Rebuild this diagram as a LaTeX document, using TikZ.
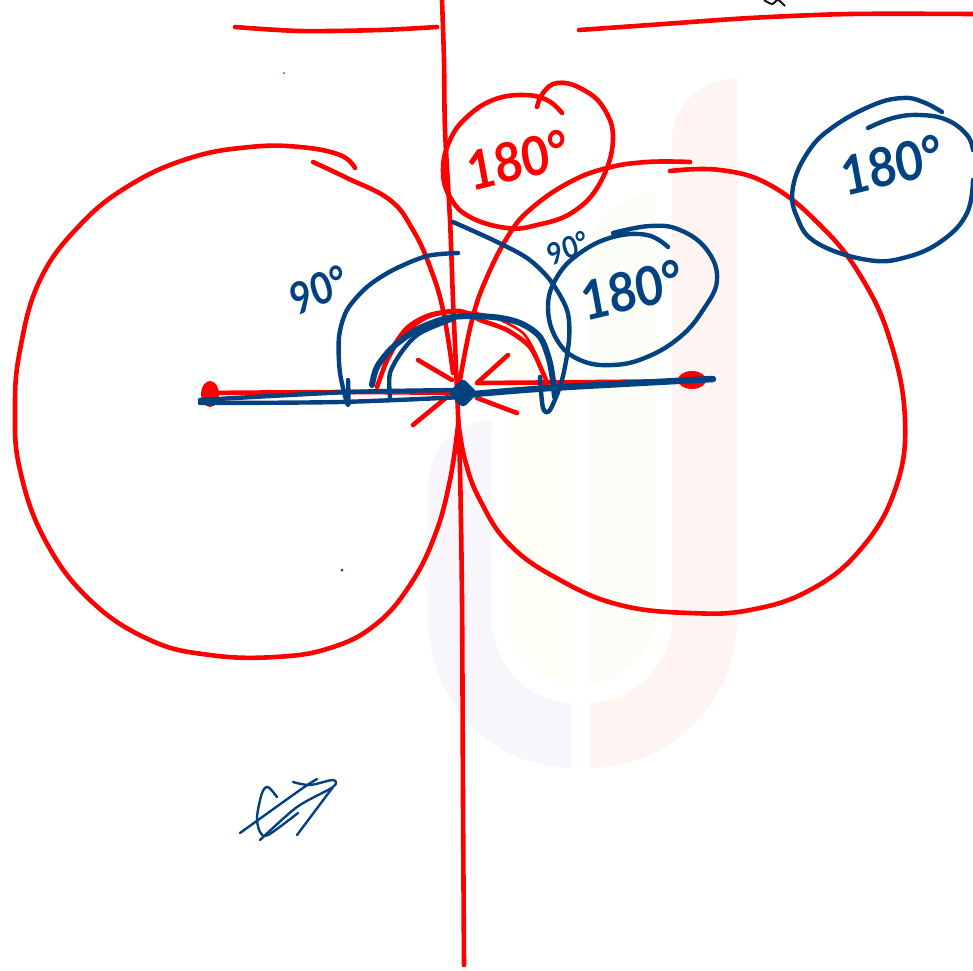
\documentclass[tikz,border=0pt]{standalone}
\usepackage{xcolor}
\usepackage{fontspec}
\setmainfont{Lato}
\usetikzlibrary{positioning}
\definecolor{InkRed}  {RGB}{255,  0,  0}
\definecolor{InkBlue} {RGB}{  2, 66,128}
\definecolor{InkDark} {RGB}{ 20, 20, 20}
\definecolor{MarkLav} {RGB}{248,246,251}
\definecolor{MarkYel} {RGB}{254,254,246}
\definecolor{MarkGrn} {RGB}{251,253,247}
\definecolor{MarkPink}{RGB}{254,245,243}
\tikzset{
  redink/.style ={draw=InkRed, line width=4.6pt, line cap=round, line join=round},
  redthin/.style={redink, line width=2.6pt},
  blueink/.style ={draw=InkBlue, line width=4.4pt, line cap=round, line join=round},
  bluethin/.style={blueink, line width=2.4pt},
  handred/.style ={text=InkRed, font=\fontsize{54}{54}\selectfont\bfseries, inner sep=0pt, xscale=.88},
  handblue/.style={text=InkBlue, font=\fontsize{54}{54}\selectfont\bfseries, inner sep=0pt, xscale=.88}
}
\begin{document}
\begin{tikzpicture}[x=1pt,y=-1pt]
  \useasboundingbox (0,0) rectangle (973,970);

  % faint mark behind the sketch
  \fill[MarkLav]  (428,490) .. controls (428,445) and (458,420) .. (492,420) -- (492,620)
    .. controls (492,665) and (530,703) .. (572,703) -- (572,768)
    .. controls (492,768) and (428,700) .. (428,620) -- cycle;
  \fill[MarkPink] (737,78) .. controls (700,80) and (672,105) .. (672,140) -- (672,620)
    .. controls (672,665) and (632,703) .. (590,703) -- (590,768)
    .. controls (670,768) and (737,700) .. (737,620) -- cycle;
  \fill[MarkYel]  (507,370) .. controls (507,340) and (535,315) .. (572,313) -- (572,685)
    .. controls (535,680) and (507,650) .. (507,620) -- cycle;
  \fill[MarkGrn]  (655,192) .. controls (620,195) and (590,220) .. (590,250) -- (590,685)
    .. controls (625,680) and (655,650) .. (655,620) -- cycle;

  % axes
  \draw[redink] plot[smooth] coordinates {(235,27) (300,31) (380,30) (437,27)};
  \draw[redink] plot[smooth] coordinates {(579,30) (650,25) (750,18) (850,14) (973,14)};
  \draw[redink] plot[smooth] coordinates {(442,0) (444,60) (445,130) (450,220) (453,300) (457,390) (460,470) (462,600) (463,800) (464,965)};
  \draw[redink] plot[smooth] coordinates {(205,393) (350,392) (455,393)};
  \draw[redink] plot[smooth] coordinates {(478,383) (600,382) (690,381)};
  \fill[InkRed] (210,394) ellipse[x radius=9pt, y radius=13pt];
  \fill[InkRed] (692,380) ellipse[x radius=14pt, y radius=9pt];

  % left lobe
  \draw[redink] plot[smooth, tension=.7] coordinates {(355,168) (340,155) (300,147) (250,147) (190,158) (130,185) (80,225) (40,280) (20,350) (15,410) (20,470) (45,540) (90,600) (150,640) (210,655) (275,657) (330,648) (375,625) (410,585) (435,535) (450,480) (458,425)};
  \draw[redink] plot[smooth, tension=.7] coordinates {(313,162) (347,178) (390,200) (413,230) (430,267) (443,310) (453,373)};

  % right lobe
  \draw[redink] plot[smooth, tension=.7] coordinates {(690,162) (647,162) (607,168) (570,182) (533,207) (510,233) (487,277) (472,320) (460,380)};
  \draw[redink] plot[smooth, tension=.7] coordinates {(670,171) (720,170) (770,185) (820,225) (860,275) (890,340) (905,420) (895,490) (860,550) (810,590) (750,610) (690,613) (620,605) (560,580) (510,545) (480,500) (465,460) (458,420)};

  % red caps and rays at the centre
  \draw[redink] plot[smooth] coordinates {(377,387) (390,353) (407,328) (430,315) (460,311) (480,320) (507,330) (530,347) (543,373) (547,383)};
  \draw[redthin] plot[smooth] coordinates {(380,377) (400,340) (427,318) (460,312) (493,317) (523,333) (537,357)};
  \draw[redink] (418,360) -- (452,380);
  \draw[redink] (508,355) -- (477,383);
  \draw[redink] (413,425) -- (447,397);
  \draw[redink] (517,413) -- (477,398);

  % red ring
  \draw[redink] plot[smooth, tension=.7] coordinates {(537,107) (543,93) (557,83) (580,88) (603,107) (613,140) (600,183) (573,212) (537,225) (507,228) (470,217) (450,197) (443,170) (450,140) (467,117) (493,100) (523,95) (547,100) (562,113)};
  \node[handred, rotate=12] (ringred) at (518,160) {180°};

  % blue strokes through the centre
  \draw[blueink] plot[smooth] coordinates {(200,400) (350,392) (463,390)};
  \draw[blueink] plot[smooth] coordinates {(200,403) (340,402) (463,397)};
  \draw[blueink, line width=6.5pt] plot[smooth] coordinates {(463,395) (550,388) (713,379)};
  \fill[InkBlue, rounded corners=4pt] (463,378) -- (478,393) -- (463,408) -- (448,393) -- cycle;

  % blue arcs
  \draw[blueink] plot[smooth] coordinates {(458,253) (427,256) (393,270) (367,287) (347,310) (339,337) (340,373) (348,405) (348,380)};
  \draw[blueink] plot[smooth] coordinates {(453,222) (493,240) (527,258) (550,280) (567,310) (569,340) (562,380) (550,410) (543,408) (540,377)};
  \draw[blueink, line width=6pt] plot[smooth] coordinates {(372,385) (377,367) (393,347) (420,328) (453,317) (493,317) (520,323) (540,337) (550,363) (555,397)};
  \draw[blueink] plot[smooth] coordinates {(390,397) (390,373) (403,350) (420,333) (453,319)};

  % blue rings
  \draw[blueink] plot[smooth, tension=.7] coordinates {(668,247) (647,235) (613,237) (580,253) (557,277) (548,307) (557,340) (580,360) (613,365) (647,357) (680,337) (703,310) (717,280) (707,250) (680,230) (650,226) (613,233)};
  \node[handblue, rotate=12] (ringmid) at (632,290) {180°};
  \draw[blueink] plot[smooth, tension=.7] coordinates {(942,112) (923,102) (903,98) (873,105) (833,127) (808,152) (793,187) (797,217) (817,243) (868,260) (907,257) (943,240) (967,213) (973,180)};
  \draw[blueink] plot[smooth, tension=.7] coordinates {(868,128) (893,118) (920,115) (947,120) (967,135) (973,150)};
  \node[handblue, rotate=12] (ringfar) at (892,165) {180°};

  % angle labels
  \node[handblue, rotate=20, font=\fontsize{44}{44}\selectfont\bfseries, xscale=.95] (angleleft)  at (319,290) {90°};
  \node[handblue, rotate=20, font=\fontsize{30}{30}\selectfont\bfseries, xscale=1] (angleright) at (568,248) {90°};

  % scribble
  \draw[bluethin] plot[smooth] coordinates {(240,833) (300,790) (317,779)};
  \draw[bluethin] plot[smooth] coordinates {(293,782) (310,785) (333,780) (333,787) (297,807) (260,840)};
  \draw[bluethin] plot[smooth] coordinates {(277,797) (268,787) (262,793) (257,817) (260,832) (268,835) (298,813)};
  \draw[bluethin] (297,835) -- (333,787);

  % stray specks
  \fill[InkBlue] (342,570) circle[radius=1.5pt];
  \fill[InkRed]  (284,73) circle[radius=1pt];
  \draw[InkDark, line width=2pt] plot[smooth] coordinates {(764,0) (772,4) (778,0) (785,6)};
\end{tikzpicture}
\end{document}
